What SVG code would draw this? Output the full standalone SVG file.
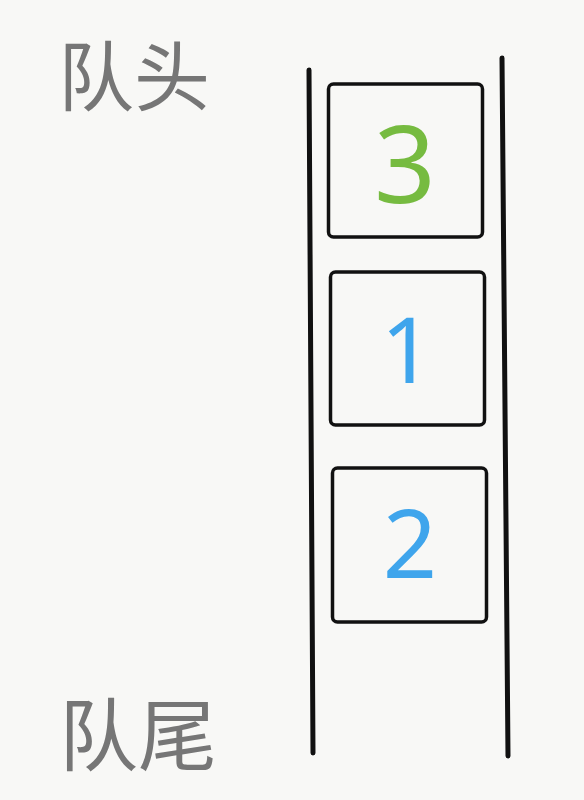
<svg xmlns="http://www.w3.org/2000/svg" width="584" height="800" viewBox="0 0 584 800">
<style>
.box{fill:none;stroke:#111;stroke-width:3.5;}
.wall{fill:none;stroke:#111;stroke-width:5;stroke-linecap:round;}
.lbl{font-family:"Noto Sans CJK SC","Noto Sans",sans-serif;fill:#767676;}
.num{font-family:"Noto Sans","Open Sans",sans-serif;text-anchor:middle;}
</style>
<rect width="584" height="800" fill="#f8f8f6"/>
<g id="labels">
<text class="lbl" x="58" y="105" font-size="76">队头</text>
<text class="lbl" x="59" y="765" font-size="79">队尾</text>
</g>
<g id="connectors">
<line class="wall" x1="309" y1="70" x2="313" y2="753"/>
<line class="wall" x1="502" y1="58" x2="508" y2="756"/>
</g>
<g id="node-3">
<rect class="box" x="328.5" y="84" width="154" height="153" rx="5"/>
<text class="num" x="405" y="203" font-size="108" fill="#76bb40">3</text>
</g>
<g id="node-1">
<rect class="box" x="330.5" y="272" width="154" height="153" rx="5"/>
<text class="num" x="407" y="383" font-size="92" fill="#3fa5ec">1</text>
</g>
<g id="node-2">
<rect class="box" x="332.5" y="468" width="154" height="154" rx="5"/>
<text class="num" x="410" y="578" font-size="95" fill="#3fa5ec">2</text>
</g>
</svg>
